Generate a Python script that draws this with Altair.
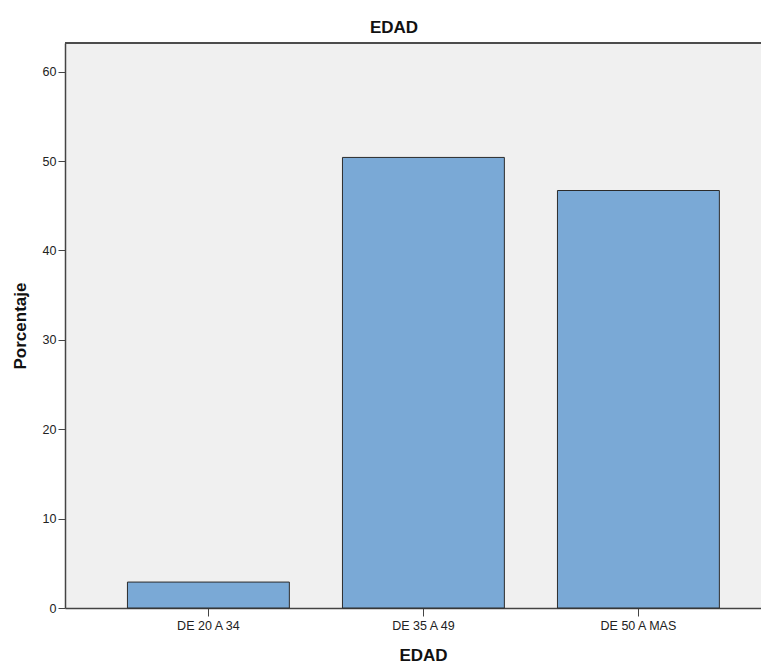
import altair as alt
import pandas as pd

categories = ["DE 20 A 34", "DE 35 A 49", "DE 50 A MAS"]
values = [2.9, 50.4, 46.7]
y_max = 63.2

df = pd.DataFrame({"EDAD": categories, "Porcentaje": values})

FONT = "Liberation Sans"

bars = alt.Chart(df).mark_bar(
    color="#7AA9D6", stroke="#2b2b2b", strokeWidth=1
).encode(
    x=alt.X("EDAD:N", sort=categories,
            scale=alt.Scale(paddingInner=0.247, paddingOuter=0.242, align=0.6),
            axis=alt.Axis(title="EDAD", labelAngle=0, labelFontSize=12.5,
                          labelFont=FONT, labelColor="#222222",
                          titleFont=FONT, titleFontSize=17, titleFontWeight="bold",
                          titleColor="#111111", titlePadding=16, titleX=358,
                          tickSize=8, tickColor="#444444", domainColor="#444444",
                          domainWidth=1.5, labelPadding=3)),
    y=alt.Y("Porcentaje:Q", scale=alt.Scale(domain=[0, y_max], nice=False),
            axis=alt.Axis(title="Porcentaje", values=[0, 10, 20, 30, 40, 50, 60],
                          labelFontSize=12.5, labelFont=FONT, labelColor="#222222",
                          titleFont=FONT, titleFontSize=17, titleFontWeight="bold",
                          titleColor="#111111", titlePadding=13,
                          tickSize=7, tickColor="#444444", domainColor="#444444",
                          domainWidth=1.5, labelPadding=2, grid=False)),
)

top_line = alt.Chart(df).mark_rule(color="#4a4a4a", strokeWidth=1.5).encode(
    y=alt.datum(y_max)
)

chart = alt.layer(bars, top_line).properties(
    width=696,
    height=565,
    title=alt.TitleParams("EDAD", font=FONT, fontSize=17, fontWeight="bold",
                          color="#111111", offset=5, dx=-19),
    autosize=alt.AutoSizeParams(type="none"),
    padding={"left": 57, "top": 35, "right": 0, "bottom": 60},
    background="white",
).configure_view(
    fill="#F0F0F0", strokeWidth=0
)

chart.save("out.html", embed_options={"renderer": "svg", "actions": False})
